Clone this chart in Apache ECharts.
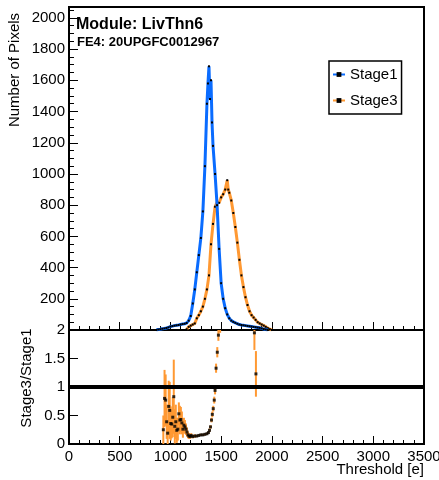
<!DOCTYPE html>
<html>
<head>
<meta charset="utf-8">
<script src="https://cdn.jsdelivr.net/npm/echarts@6/dist/echarts.min.js"></script>
<style>
html,body{margin:0;padding:0;background:#fff;}
#chart{width:439px;height:480px;}
</style>
</head>
<body>
<div id="chart"></div>
<script>
// ---- data ----
const stage1X = [860,880,900,920,940,960,980,1000,1020,1040,1060,1080,1100,1120,1140,1160,1180,1200,1220,1240,1260,1280,1300,1320,1340,1360,1370,1380,1390,1400,1410,1420,1440,1460,1480,1500,1520,1540,1560,1580,1600,1620,1640,1660,1680,1700,1720,1740,1760,1780,1800,1820,1840,1860,1880,1900,1920,1940,1960];
const stage1Y = [0,3,5,8,10,13,17,22,25,28,30,32,35,38,40,45,60,90,170,260,370,480,590,760,1050,1450,1580,1690,1480,1600,1330,1180,1000,800,520,300,200,140,100,75,60,52,46,40,35,32,30,28,26,24,22,20,18,16,14,10,6,3,0];
const stage3X = [1160,1180,1200,1220,1240,1260,1280,1300,1320,1340,1360,1380,1400,1420,1440,1460,1480,1500,1520,1540,1560,1570,1580,1600,1620,1640,1660,1680,1700,1720,1740,1760,1780,1800,1820,1840,1860,1880,1900,1920,1940,1960,1980,2000];
const stage3Y = [5,20,28,35,42,75,95,120,150,200,260,350,550,680,790,820,815,850,870,900,960,900,880,830,750,660,560,450,350,275,210,160,120,95,80,65,50,42,35,28,20,12,5,0];
const ratioX = [930,942,953,963,973,983,993,1003,1013,1023,1033,1043,1053,1063,1073,1083,1093,1103,1113,1123,1133,1143,1153,1163,1173,1183,1193,1205,1220,1240,1260,1280,1300,1320,1340,1360,1375,1385,1395,1405,1413,1422,1432,1440,1450,1462,1473,1490,1828,1843];
const ratioY = [0.25,0.80,0.77,0.39,0.19,0.66,0.59,0.36,0.35,0.47,0.83,0.31,0.39,0.24,0.26,0.53,0.42,0.43,0.37,0.26,0.33,0.30,0.26,0.21,0.16,0.14,0.13,0.15,0.13,0.14,0.14,0.15,0.16,0.16,0.17,0.18,0.20,0.24,0.30,0.42,0.52,0.62,0.77,0.94,1.33,1.61,1.91,2.4,1.95,1.23];
const ratioErr = [0.25,0.5,0.45,0.3,0.2,0.45,0.5,0.3,0.25,0.35,0.65,0.3,0.3,0.22,0.2,0.2,0.25,0.22,0.2,0.15,0.13,0.12,0.1,0.08,0.06,0.05,0.04,0.04,0.03,0.03,0.02,0.02,0.02,0.02,0.02,0.02,0.02,0.03,0.03,0.04,0.05,0.05,0.06,0.07,0.08,0.09,0.1,0.45,0.3,0.4];
const xTicks = {min: 0, max: 3500, step: 500};
const yTopRange = {min: 0, max: 2070, step: 200};
const yRatioRange = {min: 0, max: 2, step: 0.5};
const ratioRef = 1;

// ---- build ----
const BLUE = '#0a6cff';
const ORANGE = '#ff9933';
const s1 = stage1X.map((x, i) => [x, stage1Y[i]]);
const s3 = stage3X.map((x, i) => [x, stage3Y[i]]);
const rData = ratioX.map((x, i) => [x, ratioY[i], ratioErr[i]]);
const FONT = 'Liberation Sans, Arial, Helvetica, sans-serif';

const chart = echarts.init(document.getElementById('chart'), null, {renderer: 'canvas'});
const axisCommon = {
  axisLine: {show: true, onZero: false, lineStyle: {color: '#000', width: 2}},
  splitLine: {show: false},
};
const plain = v => String(v);
chart.setOption({
  animation: false,
  backgroundColor: '#fff',
  textStyle: {fontFamily: FONT},
  grid: [
    {left: 69, right: 15, top: 7, height: 323, show: true, borderColor: '#000', borderWidth: 2, backgroundColor: 'transparent', outerBoundsMode: 'none', containLabel: false},
    {left: 69, right: 15, top: 330, height: 114, show: true, borderColor: '#000', borderWidth: 2, backgroundColor: 'transparent', outerBoundsMode: 'none', containLabel: false}
  ],
  xAxis: [
    Object.assign({}, axisCommon, {type: 'value', gridIndex: 0, min: xTicks.min, max: xTicks.max, interval: xTicks.step,
      axisLabel: {show: false},
      axisTick: {show: true, inside: true, length: 8, lineStyle: {color: '#000', width: 1}},
      minorTick: {show: true, splitNumber: 5, length: 4, lineStyle: {color: '#000', width: 1}}}),
    Object.assign({}, axisCommon, {type: 'value', gridIndex: 1, min: xTicks.min, max: xTicks.max, interval: xTicks.step,
      axisLabel: {show: true, color: '#000', fontSize: 15, margin: 5, fontFamily: FONT, formatter: plain},
      axisTick: {show: true, inside: true, length: 8, lineStyle: {color: '#000', width: 1}},
      minorTick: {show: true, splitNumber: 5, length: 4, lineStyle: {color: '#000', width: 1}}})
  ],
  yAxis: [
    Object.assign({}, axisCommon, {type: 'value', gridIndex: 0, min: yTopRange.min, max: yTopRange.max, interval: yTopRange.step,
      axisLabel: {show: true, color: '#000', fontSize: 15, margin: 4, fontFamily: FONT,
        formatter: v => (v > 0 && v % 200 === 0) ? String(v) : ''},
      axisTick: {show: true, inside: true, length: 9, lineStyle: {color: '#000', width: 1}},
      minorTick: {show: true, splitNumber: 4, length: 5, lineStyle: {color: '#000', width: 1}}}),
    Object.assign({}, axisCommon, {type: 'value', gridIndex: 1, min: yRatioRange.min, max: yRatioRange.max, interval: yRatioRange.step,
      axisLabel: {show: true, color: '#000', fontSize: 15, margin: 4, fontFamily: FONT, formatter: plain},
      axisTick: {show: true, inside: true, length: 9, lineStyle: {color: '#000', width: 1}},
      minorTick: {show: false}})
  ],
  legend: {
    orient: 'vertical', left: 329, top: 61,
    padding: [6, 4, 6, 3], itemGap: 11, itemWidth: 12, itemHeight: 6,
    borderColor: '#000', borderWidth: 1.5, backgroundColor: '#fff',
    textStyle: {color: '#000', fontSize: 15, fontFamily: FONT},
    data: ['Stage1', 'Stage3']
  },
  graphic: [
    {type: 'text', left: 76, top: 17, style: {text: 'Module: LivThn6', font: 'bold 16px ' + FONT, fill: '#000'}},
    {type: 'text', left: 77, top: 36, style: {text: 'FE4: 20UPGFC0012967', font: 'bold 13px ' + FONT, fill: '#000'}},
    {type: 'text', x: 15, y: 70, rotation: Math.PI / 2,
      style: {text: 'Number of Pixels', font: '15px ' + FONT, fill: '#000', align: 'center', verticalAlign: 'middle'}},
    {type: 'text', x: 27, y: 378, rotation: Math.PI / 2,
      style: {text: 'Stage3/Stage1', font: '15px ' + FONT, fill: '#000', align: 'center', verticalAlign: 'middle'}},
    {type: 'text', x: 424, y: 470,
      style: {text: 'Threshold [e]', font: '15px ' + FONT, fill: '#000', align: 'right', verticalAlign: 'middle'}}
  ],
  series: [
    {name: 'Stage1', type: 'line', xAxisIndex: 0, yAxisIndex: 0, data: s1,
      lineStyle: {color: BLUE, width: 3}, itemStyle: {color: '#000'},
      symbol: 'rect', symbolSize: 2, showSymbol: true, color: BLUE, z: 3},
    {name: 'Stage3', type: 'line', xAxisIndex: 0, yAxisIndex: 0, data: s3,
      lineStyle: {color: ORANGE, width: 3}, itemStyle: {color: '#000'},
      symbol: 'rect', symbolSize: 2, showSymbol: true, color: ORANGE, z: 2},
    {type: 'custom', xAxisIndex: 1, yAxisIndex: 1, data: rData, z: 2,
      renderItem: function (params, api) {
        const x = api.value(0), y = api.value(1), e = api.value(2);
        const lo = Math.max(yRatioRange.min, y - e);
        const hi = Math.min(yRatioRange.max, y + e);
        if (lo >= hi) return null;
        const p1 = api.coord([x, lo]);
        const p2 = api.coord([x, hi]);
        return {type: 'line', shape: {x1: p1[0], y1: p1[1], x2: p2[0], y2: p2[1]},
          style: {stroke: ORANGE, lineWidth: 2}};
      }},
    {type: 'scatter', xAxisIndex: 1, yAxisIndex: 1, data: rData.map(d => [d[0], d[1]]),
      symbol: 'rect', symbolSize: 3, itemStyle: {color: '#000'}, z: 3, clip: true,
      markLine: {silent: true, symbol: 'none', label: {show: false},
        lineStyle: {color: '#000', width: 4, type: 'solid'},
        data: [{yAxis: ratioRef}]}}
  ]
});
</script>
</body>
</html>
